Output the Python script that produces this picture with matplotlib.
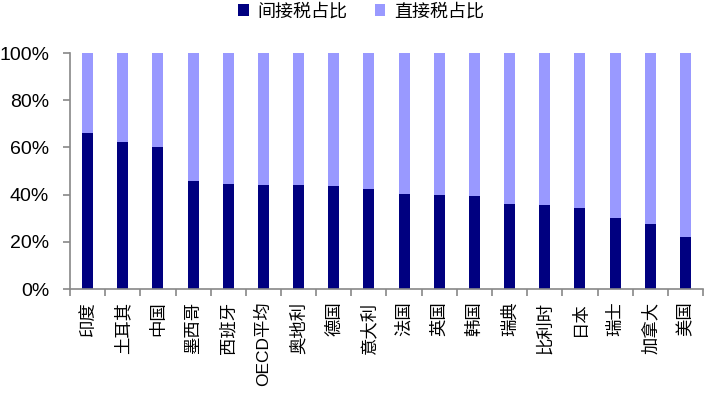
import numpy as np
import matplotlib.pyplot as plt
from matplotlib.ticker import PercentFormatter

plt.rcParams['font.family'] = ['Liberation Sans', 'Noto Sans CJK SC']

countries = ['印度', '土耳其', '中国', '墨西哥', '西班牙', 'OECD平均', '奥地利', '德国', '意大利',
             '法国', '英国', '韩国', '瑞典', '比利时', '日本', '瑞士', '加拿大', '美国']
indirect = [66.0, 62.3, 60.0, 45.8, 44.5, 43.9, 43.9, 43.5, 42.5,
            40.3, 39.8, 39.4, 36.0, 35.6, 34.3, 30.1, 27.4, 21.9]
direct = [100 - v for v in indirect]

dark = '#000080'
light = '#9999ff'

fig = plt.figure(figsize=(7.08, 4.03), dpi=100)
ax = fig.add_axes([70 / 708, 1 - 289 / 403, 633 / 708, 236 / 403])

x = np.arange(len(countries))
ax.bar(x, indirect, width=0.31, color=dark, label='间接税占比')
ax.bar(x, direct, width=0.31, bottom=indirect, color=light, label='直接税占比')

ax.set_xlim(-0.5, len(countries) - 0.5)
ax.set_ylim(0, 100)
ax.yaxis.set_major_formatter(PercentFormatter(decimals=0))
ax.set_yticks(np.arange(0, 101, 20))

for s in ['top', 'right']:
    ax.spines[s].set_visible(False)
for s in ['left', 'bottom']:
    ax.spines[s].set_color('#888888')
    ax.spines[s].set_linewidth(1.2)

ax.set_xticks(x)
ax.set_xticklabels(countries, rotation=90, fontsize=12.5)
ax.tick_params(axis='x', length=0, pad=9)
ax.set_xticks(np.arange(-0.5, len(countries), 1), minor=True)
ax.tick_params(axis='x', which='minor', length=5, color='#888888', width=1.2, direction='out')
ax.tick_params(axis='y', length=5, color='#888888', width=1.2, direction='out',
               labelsize=14, pad=10)

fig.legend(loc='upper center', bbox_to_anchor=(0.51, 1.035), ncol=2, frameon=False,
           prop={'family': 'Noto Sans CJK SC', 'size': 13},
           handlelength=0.6, handleheight=0.6, handletextpad=0.5, columnspacing=1.5)

fig.savefig('out.png', dpi=100)
